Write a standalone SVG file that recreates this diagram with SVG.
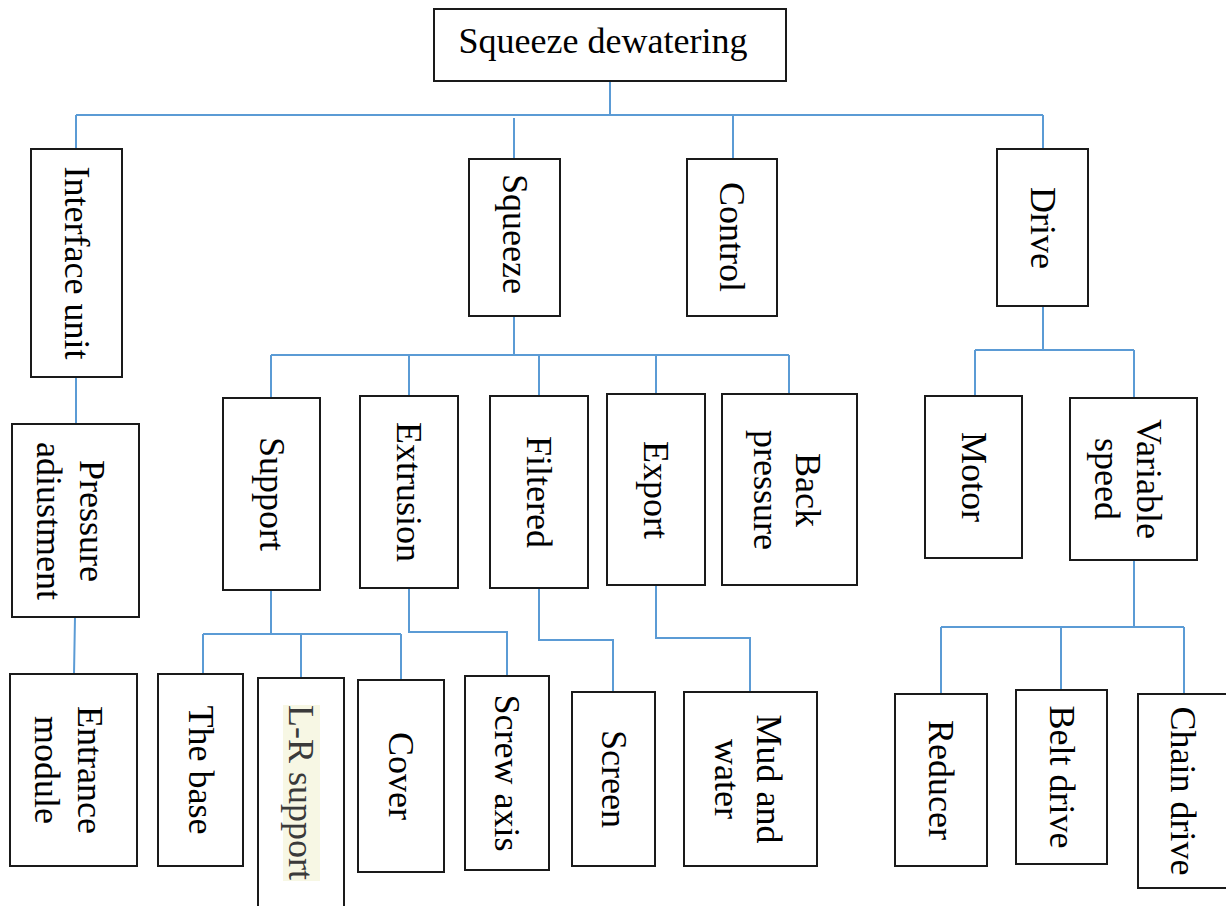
<svg xmlns="http://www.w3.org/2000/svg" width="1226" height="906" viewBox="0 0 1226 906">
<style>
.box{fill:#ffffff;stroke:#1a1a1a;stroke-width:2}
.t{font-family:"Liberation Serif","Times New Roman",serif;font-size:36px;fill:#000000;text-anchor:middle}
.c{fill:none;stroke:#5b9bd5;stroke-width:2}
</style>
<rect x="0" y="0" width="1226" height="906" fill="#ffffff"/>
<g id="connectors">
<path class="c" d="M610,81 V115 M76,115 H1043 M76,115 V149 M514,118 V159 M733,115 V159 M1043,115 V149"/>
<path class="c" d="M76,377 V424 M75,617 L74,674"/>
<path class="c" d="M514,316 V355 M271,355 H789 M271,355 V398 M409,355 V396 M539,355 V396 M656,355 V394 M789,355 V394"/>
<path class="c" d="M1043,306 V350 M975,350 H1134 M975,350 V396 M1134,350 V398"/>
<path class="c" d="M271,590 V634 M203,634 H401 M203,634 V674 M301,634 V678 M401,634 V680"/>
<path class="c" d="M409,588 V632 H507 V676"/>
<path class="c" d="M539,588 V640 H613 V692"/>
<path class="c" d="M656,585 V638 H750 V692"/>
<path class="c" d="M1134,560 V627 M941,627 H1184 M941,627 V694 M1061,627 V690 M1184,627 V694"/>
</g>
<g id="root"><rect class="box" x="434" y="9" width="352" height="72"/><text class="t" x="603" y="53">Squeeze dewatering</text></g>
<g id="interface"><rect class="box" x="31" y="149" width="91" height="228"/><text class="t" transform="translate(76.5,263) rotate(90)" y="12">Interface unit</text></g>
<g id="squeeze"><rect class="box" x="469" y="159" width="91" height="157"/><text class="t" transform="translate(514.5,234) rotate(90)" y="12">Squeeze</text></g>
<g id="control"><rect class="box" x="687" y="159" width="90" height="157"/><text class="t" transform="translate(732,237) rotate(90)" y="12">Control</text></g>
<g id="drive"><rect class="box" x="997" y="149" width="91" height="157"/><text class="t" transform="translate(1042.5,228) rotate(90)" y="12">Drive</text></g>
<g id="pressure"><rect class="box" x="12" y="424" width="127" height="193"/><text class="t" transform="translate(75.5,521) rotate(90)"><tspan x="0" y="-4.5">Pressure</tspan><tspan x="0" y="38.5">adiustment</tspan></text></g>
<g id="entrance"><rect class="box" x="10" y="674" width="127" height="192"/><text class="t" transform="translate(73.5,770) rotate(90)"><tspan x="0" y="-4.5">Entrance</tspan><tspan x="0" y="38.5">module</tspan></text></g>
<g id="support"><rect class="box" x="223" y="398" width="97" height="192"/><text class="t" transform="translate(271.5,494) rotate(90)" y="12">Support</text></g>
<g id="extrusion"><rect class="box" x="360" y="396" width="98" height="192"/><text class="t" transform="translate(409,492) rotate(90)" y="12">Extrusion</text></g>
<g id="filtered"><rect class="box" x="490" y="396" width="98" height="192"/><text class="t" transform="translate(539,492) rotate(90)" y="12">Filtered</text></g>
<g id="export"><rect class="box" x="607" y="394" width="98" height="191"/><text class="t" transform="translate(656,490) rotate(90)" y="12">Export</text></g>
<g id="backpressure"><rect class="box" x="722" y="394" width="135" height="191"/><text class="t" transform="translate(789.5,490) rotate(90)"><tspan x="0" y="-6.5">Back</tspan><tspan x="0" y="35.5">pressure</tspan></text></g>
<g id="motor"><rect class="box" x="925" y="396" width="97" height="162"/><text class="t" transform="translate(973.5,477) rotate(90)" y="12">Motor</text></g>
<g id="variable"><rect class="box" x="1070" y="398" width="127" height="162"/><text class="t" transform="translate(1133.5,479) rotate(90)"><tspan x="0" y="-3">Variable</tspan><tspan x="0" y="39">speed</tspan></text></g>
<g id="thebase"><rect class="box" x="158" y="674" width="85" height="192"/><text class="t" transform="translate(200.5,770) rotate(90)" y="12">The base</text></g>
<g id="lrsupport"><rect class="box" x="258" y="678" width="86" height="240"/><rect x="283" y="705" width="37" height="176" fill="#f7f7e4"/><text class="t" transform="translate(301,792.5) rotate(90)" y="12" style="fill:#3a3a3a">L-R support</text></g>
<g id="cover"><rect class="box" x="358" y="680" width="86" height="192"/><text class="t" transform="translate(401,776) rotate(90)" y="12">Cover</text></g>
<g id="screwaxis"><rect class="box" x="465" y="676" width="84" height="194"/><text class="t" transform="translate(507,773) rotate(90)" y="12">Screw axis</text></g>
<g id="screen"><rect class="box" x="572" y="692" width="83" height="174"/><text class="t" transform="translate(613.5,779) rotate(90)" y="12">Screen</text></g>
<g id="mudwater"><rect class="box" x="684" y="692" width="133" height="174"/><text class="t" transform="translate(750.5,779) rotate(90)"><tspan x="0" y="-6.5">Mud and</tspan><tspan x="0" y="35.5">water</tspan></text></g>
<g id="reducer"><rect class="box" x="895" y="694" width="92" height="172"/><text class="t" transform="translate(941,780) rotate(90)" y="12">Reducer</text></g>
<g id="beltdrive"><rect class="box" x="1016" y="690" width="91" height="174"/><text class="t" transform="translate(1061.5,777) rotate(90)" y="12">Belt drive</text></g>
<g id="chaindrive"><rect class="box" x="1138" y="694" width="90" height="194"/><text class="t" transform="translate(1183,791) rotate(90)" y="12">Chain drive</text></g>
</svg>
